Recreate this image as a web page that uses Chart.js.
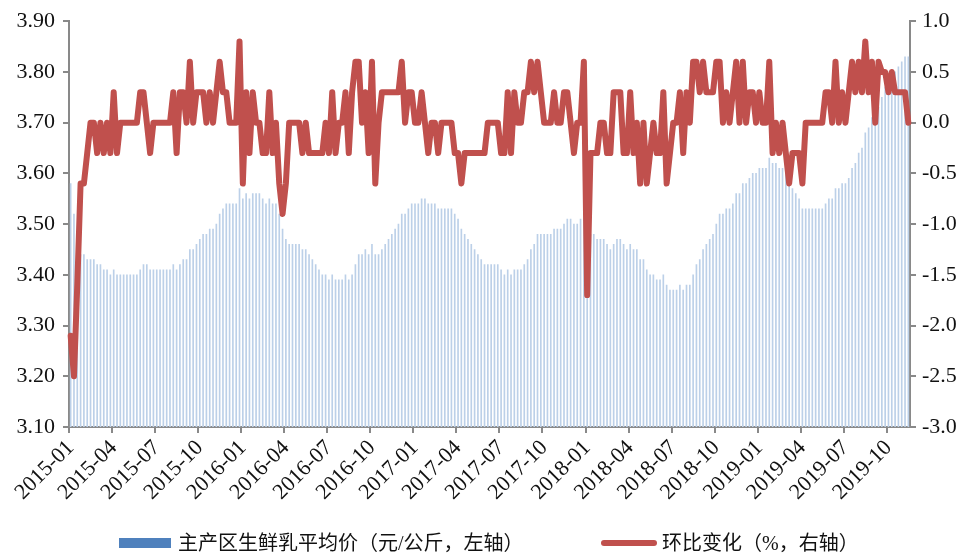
<!DOCTYPE html>
<html lang="zh">
<head>
  <meta charset="UTF-8" />
  <title>主产区生鲜乳平均价</title>
  <script src="https://cdn.jsdelivr.net/npm/chart.js"></script>
  <style>
    body { margin: 0; background: #fff; }
    #wrap { position: relative; width: 968px; height: 553px; }
    .legend { position: absolute; font-family: "Liberation Serif", "Noto Sans CJK SC", serif; font-size: 20px; color: #111; line-height: 20px; white-space: nowrap; }
    .swatch { position: absolute; }
  </style>
</head>
<body>
  <div id="wrap">
    <canvas id="milkChart" width="968" height="553"></canvas>
    <span class="swatch" style="left:119px; top:538px; width:52px; height:10px; background:#4f81bd;"></span>
    <span class="legend" style="left:178px; top:533px;">主产区生鲜乳平均价（元/公斤，左轴）</span>
    <span class="swatch" style="left:601px; top:540px; width:56px; height:6px; border-radius:3px; background:#c0504d;"></span>
    <span class="legend" style="left:662px; top:533px;">环比变化（%，右轴）</span>
  </div>

  <script>
    // weekly data, one row per quarter (13 weeks)
    const tickLabels = ['2015-01','2015-04','2015-07','2015-10','2016-01','2016-04','2016-07','2016-10',
                        '2017-01','2017-04','2017-07','2017-10','2018-01','2018-04','2018-07','2018-10',
                        '2019-01','2019-04','2019-07','2019-10'];

    const price = [
      3.58,3.52,3.46,3.44,3.44,3.43,3.43,3.43,3.42,3.42,3.41,3.41,3.40,
      3.41,3.40,3.40,3.40,3.40,3.40,3.40,3.40,3.41,3.42,3.42,3.41,3.41,
      3.41,3.41,3.41,3.41,3.41,3.42,3.41,3.42,3.43,3.43,3.45,3.45,3.46,
      3.47,3.48,3.48,3.49,3.49,3.50,3.52,3.53,3.54,3.54,3.54,3.54,3.57,
      3.55,3.56,3.55,3.56,3.56,3.56,3.55,3.54,3.55,3.54,3.54,3.52,3.49,
      3.47,3.46,3.46,3.46,3.46,3.45,3.45,3.44,3.43,3.42,3.41,3.40,3.40,
      3.39,3.40,3.39,3.39,3.39,3.40,3.39,3.40,3.42,3.44,3.44,3.45,3.44,
      3.46,3.44,3.44,3.45,3.46,3.47,3.48,3.49,3.50,3.52,3.52,3.53,3.54,
      3.54,3.54,3.55,3.55,3.54,3.54,3.54,3.53,3.53,3.53,3.53,3.53,3.52,
      3.51,3.49,3.48,3.47,3.46,3.45,3.44,3.43,3.42,3.42,3.42,3.42,3.42,
      3.41,3.40,3.41,3.40,3.41,3.41,3.41,3.42,3.43,3.45,3.46,3.48,3.48,
      3.48,3.48,3.48,3.49,3.49,3.49,3.50,3.51,3.51,3.50,3.50,3.51,3.52,
      3.49,3.48,3.48,3.47,3.47,3.47,3.46,3.45,3.46,3.47,3.47,3.46,3.45,
      3.46,3.45,3.45,3.43,3.43,3.41,3.40,3.40,3.39,3.39,3.40,3.38,3.37,
      3.37,3.37,3.38,3.37,3.38,3.38,3.40,3.42,3.43,3.45,3.46,3.47,3.48,
      3.50,3.52,3.52,3.53,3.53,3.54,3.56,3.56,3.58,3.58,3.59,3.60,3.60,
      3.61,3.61,3.61,3.63,3.62,3.62,3.61,3.61,3.60,3.58,3.57,3.56,3.55,
      3.53,3.53,3.53,3.53,3.53,3.53,3.53,3.54,3.55,3.55,3.57,3.57,3.58,
      3.58,3.59,3.61,3.62,3.64,3.65,3.68,3.69,3.71,3.71,3.73,3.75,3.77,
      3.78,3.79,3.80,3.81,3.82,3.83,3.83
    ];

    const change = [
      -2.1,-2.5,-1.6,-0.6,-0.6,-0.3,0,0,-0.3,0,-0.3,0,-0.3,
      0.3,-0.3,0,0,0,0,0,0,0.3,0.3,0,-0.3,0,
      0,0,0,0,0,0.3,-0.3,0.3,0.3,0,0.6,0,0.3,
      0.3,0.3,0,0.3,0,0.3,0.6,0.3,0.3,0,0,0,0.8,
      -0.6,0.3,-0.3,0.3,0,0,-0.3,-0.3,0.3,-0.3,0,-0.6,-0.9,
      -0.6,0,0,0,0,-0.3,0,-0.3,-0.3,-0.3,-0.3,-0.3,0,
      -0.3,0.3,-0.3,0,0,0.3,-0.3,0.3,0.6,0.6,0,0.3,-0.3,
      0.6,-0.6,0,0.3,0.3,0.3,0.3,0.3,0.3,0.6,0,0.3,0.3,
      0,0,0.3,0,-0.3,0,0,-0.3,0,0,0,0,-0.3,
      -0.3,-0.6,-0.3,-0.3,-0.3,-0.3,-0.3,-0.3,-0.3,0,0,0,0,
      -0.3,-0.3,0.3,-0.3,0.3,0,0,0.3,0.3,0.6,0.3,0.6,0.3,
      0,0,0,0.3,0,0,0.3,0.3,0,-0.3,0,0,0.6,
      -1.7,-0.3,-0.3,-0.3,0,0,-0.3,-0.3,0.3,0.3,0.3,-0.3,-0.3,
      0.3,-0.3,0,-0.6,0,-0.6,-0.3,0,-0.3,-0.3,0.3,-0.6,-0.3,
      0,0,0.3,-0.3,0.3,0,0.6,0.6,0.3,0.6,0.3,0.3,0.3,
      0.6,0.6,0,0.3,0,0.3,0.6,0,0.6,0,0.3,0.3,0,
      0.3,0,0,0.6,-0.3,0,-0.3,0,-0.3,-0.6,-0.3,-0.3,-0.3,
      -0.6,0,0,0,0,0,0,0.3,0.3,0,0.6,0,0.3,
      0,0.3,0.6,0.3,0.6,0.3,0.8,0.3,0.6,0,0.6,0.5,0.5,
      0.3,0.5,0.3,0.3,0.3,0.3,0
    ];

    // a label on every 13th week, empty otherwise
    const weeks = price.map((_, i) => (i % 13 === 0 ? tickLabels[i / 13] : ''));

    const axisGray = '#898989';
    const numFont = { family: '"Liberation Serif", serif', size: 22 };

    new Chart(document.getElementById('milkChart'), {
      type: 'bar',
      data: {
        labels: weeks,
        datasets: [
          {
            type: 'line',
            label: '环比变化（%，右轴）',
            data: change,
            yAxisID: 'y1',
            borderColor: '#c0504d',
            borderWidth: 6,
            pointRadius: 0,
            tension: 0,
            borderJoinStyle: 'round',
            borderCapStyle: 'round',
            order: 1
          },
          {
            label: '主产区生鲜乳平均价（元/公斤，左轴）',
            data: price,
            yAxisID: 'y',
            backgroundColor: '#bcd0e8',
            barThickness: 1,
            order: 2
          }
        ]
      },
      options: {
        responsive: false,
        animation: false,
        devicePixelRatio: 1,
        layout: { padding: { top: 21, bottom: 0, left: 0, right: 0 } },
        plugins: { legend: { display: false }, tooltip: { enabled: false } },
        scales: {
          x: {
            offset: true,
            afterFit: s => { s.height = 126; },
            border: { color: axisGray, width: 2 },
            grid: {
              offset: true,
              drawOnChartArea: false,
              tickLength: 6,
              lineWidth: 2,
              color: c => (c.index % 13 === 0 ? axisGray : 'rgba(0,0,0,0)')
            },
            ticks: { autoSkip: false, minRotation: 45, maxRotation: 45, padding: 2, color: '#111', font: numFont }
          },
          y: {
            position: 'left',
            min: 3.1,
            max: 3.9,
            afterFit: s => { s.width = 69; },
            border: { color: axisGray, width: 2 },
            grid: { drawOnChartArea: false, tickLength: 6, lineWidth: 2, color: axisGray },
            ticks: { stepSize: 0.1, padding: 8, color: '#111', font: numFont, callback: v => v.toFixed(2) }
          },
          y1: {
            position: 'right',
            min: -3,
            max: 1,
            afterFit: s => { s.width = 58; },
            border: { color: axisGray, width: 2 },
            grid: { drawOnChartArea: false, tickLength: 6, lineWidth: 2, color: axisGray },
            ticks: { stepSize: 0.5, padding: 6, color: '#111', font: numFont, callback: v => v.toFixed(1) }
          }
        }
      }
    });
  </script>
</body>
</html>
